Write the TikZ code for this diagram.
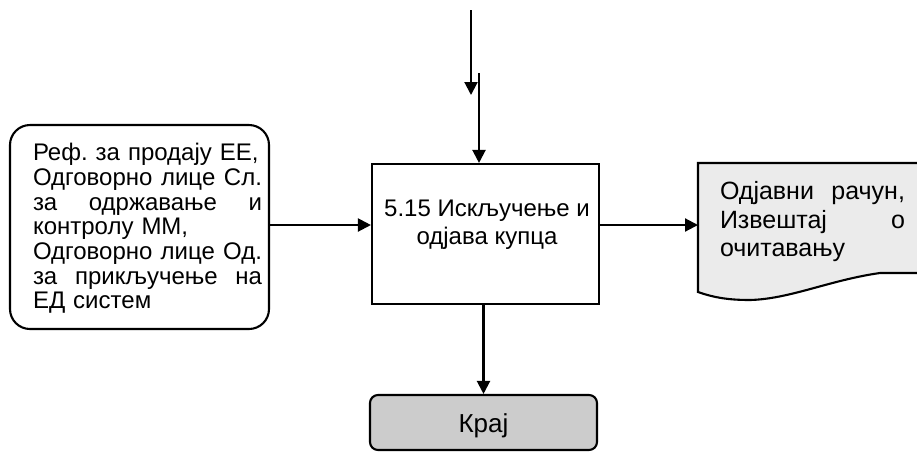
\documentclass[tikz,border=0pt]{standalone}
\usepackage{fontspec}
\setmainfont{Liberation Sans}
\frenchspacing
\usetikzlibrary{arrows.meta}

\begin{document}
\begin{tikzpicture}[x=1pt, y=-1pt, line width=2.1pt,
	arr/.style={-{Triangle[length=13pt, width=13pt]}},
	big/.style={font=\fontsize{24}{28.4}\selectfont},
	small/.style={font=\fontsize{24}{24.7}\selectfont}]
	\useasboundingbox (0,0) rectangle (917,451);
	
	\node[draw, rounded corners=20pt, minimum width=259pt, minimum height=204pt] (resp) at (139.5,227) {};
	\node[small, text width=229pt, align=left, inner sep=0pt] (respt) at (147.5,228.5) {\baselineskip=24.7pt Реф. за продају ЕЕ,\\Одговорно\hfill лице\hfill Сл.\\за\hfill одржавање\hfill и\\контролу ММ,\\Одговорно\hfill лице\hfill Од.\\за\hfill прикључење\hfill на\\ЕД систем};
	
	\node[draw, minimum width=227pt, minimum height=140pt] (task) at (485.5,234) {};
	\node[big, align=center, inner sep=0pt] (taskt) at (487,225) {5.15 Искључење и\\одјава купца};
	
	\draw[fill=black!8] (698,163) -- (925,163) -- (925,273) -- (880,273) .. controls (830,280) and (790,299) .. (750,300) .. controls (730,300) and (715,298) .. (698,292) -- cycle;
	\coordinate (repw) at (698,222);
	\node[font=\fontsize{25}{28.5}\selectfont, text width=185pt, align=left, inner sep=0pt] (report) at (812.5,222) {\baselineskip=28.5pt Одјавни\hfill рачун,\\Извештај\hfill о\\очитавању};
	
	\node[draw, fill=black!20, rounded corners=8pt, minimum width=227pt, minimum height=55pt, font=\fontsize{26}{30}\selectfont, text height=21pt, text depth=2pt] (end) at (483.5,422.5) {Крај};
	
	\coordinate (in1) at (471,10);
	\coordinate (in1e) at (471,95);
	\coordinate (in2) at (479,73);
	
	\draw[arr] (in1) -- (in1e);
	\draw[arr] (in2) -- (in2 |- task.north);
	\draw[arr] (resp.east |- taskt) -- (task.west |- taskt);
	\draw[arr] (task.east |- taskt) -- (repw |- taskt);
	\draw[arr] (task.south -| end.north) -- (end.north);
	
\end{tikzpicture}
\end{document}
